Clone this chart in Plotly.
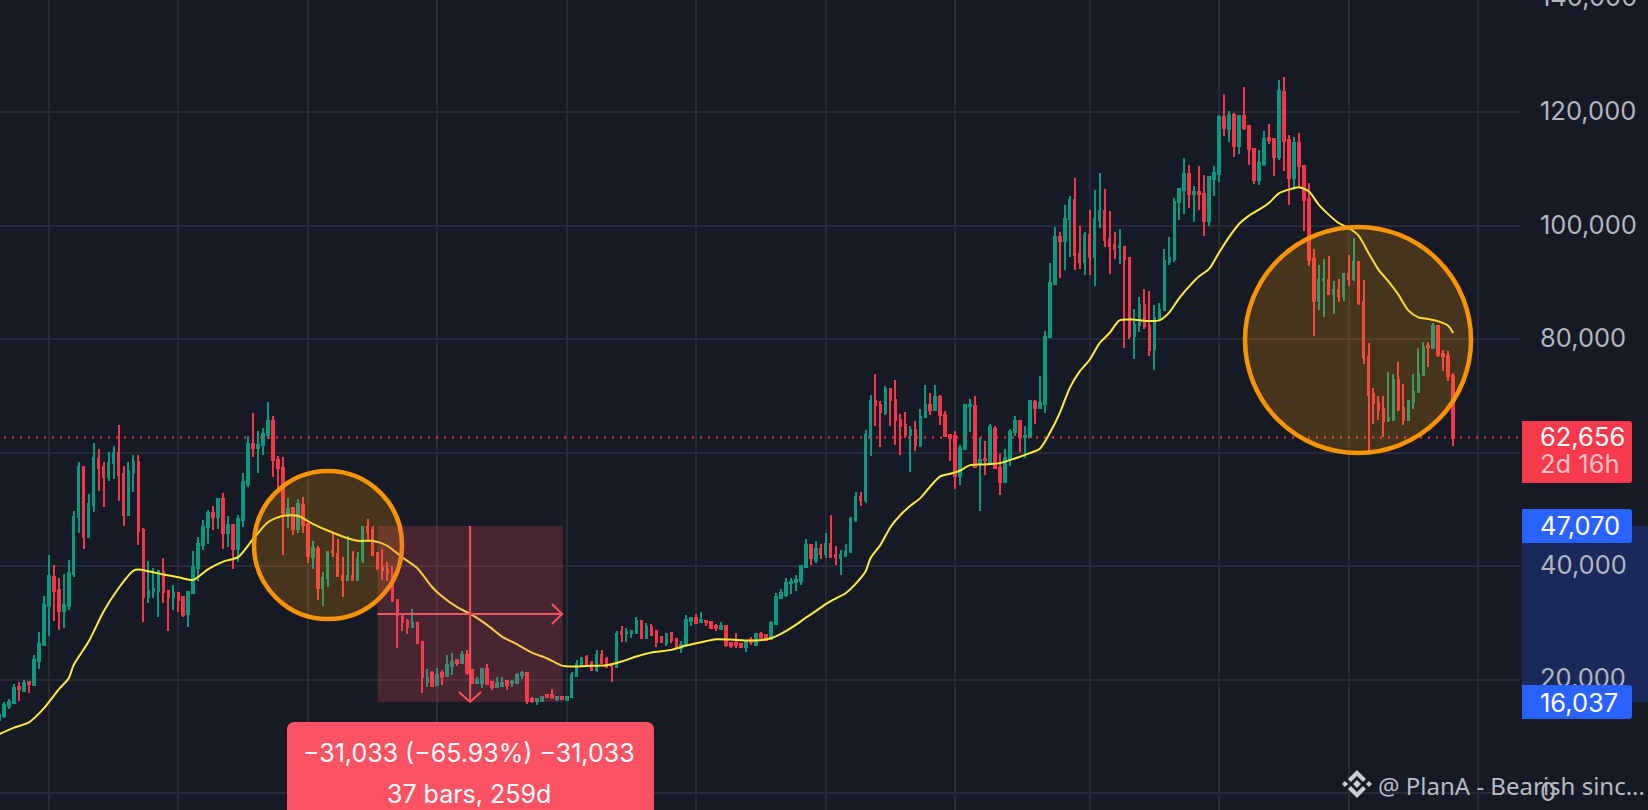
import plotly.graph_objects as go

# weekly candles
open_prices = [
    12880, 13640, 15350, 15940, 18760, 17990, 19520, 19050, 23280, 26100,
    32980, 38160, 35810, 32100, 32980, 38630, 48620, 57440, 45210, 50800,
    58860, 57440, 55620, 58090, 59910, 56270, 49040, 56500, 58390, 46390,
    34630, 35630, 35630, 38920, 35630, 34630, 35220, 34510, 31570, 35340,
    39750, 43740, 46980, 49330, 48740, 51860, 45920, 47270, 43040, 48150,
    54500, 61500, 60740, 61270, 63150, 65620, 58740, 57270, 49330, 50210,
    46570, 50800, 47390, 41690, 43040, 36220, 37860, 42630, 42160, 38330,
    37570, 38330, 37570, 41100, 46860, 46390, 42270, 39800, 39330, 38450,
    34040, 31220, 30400, 29340, 29930, 26700, 19640, 21110, 19050, 21110,
    20640, 22400, 23460, 22870, 24340, 21700, 19460, 19460, 21870, 19640,
    18760, 18930, 19760, 19350, 19350, 20820, 21110, 16520, 16230, 16230,
    17290, 17290, 16580, 16880, 16410, 16990, 20640, 22580, 23930, 22870,
    21700, 24340, 23640, 22580, 22290, 28460, 28170, 28280, 28280, 30400,
    27280, 29340, 28640, 27460, 26520, 28170, 27110, 25520, 26110, 30400,
    30810, 30170, 30400, 30110, 29460, 28930, 29460, 26400, 26520, 26280,
    25810, 26990, 26110, 27990, 27870, 27110, 29810, 34340, 34930, 36990,
    37160, 37400, 39930, 43750, 41100, 43040, 42160, 43920, 41980, 41510,
    41810, 42400, 48160, 52270, 51570, 62980, 69030, 68440, 66970, 71210,
    69330, 65800, 64920, 63030, 64030, 61390, 66210, 68440, 67560, 69740,
    66680, 63150, 62860, 55800, 60680, 68150, 68270, 57980, 58860, 58150,
    64210, 57330, 54740, 58860, 63560, 65620, 62740, 62740, 68910, 67800,
    68620, 80320, 89790, 98020, 97260, 101200, 104610, 95020, 93550, 98430,
    94430, 101080, 102670, 97670, 96670, 96200, 96260, 94320, 80620, 82440,
    85970, 82380, 78320, 83440, 85080, 93610, 94200, 104140, 106370, 109190,
    105660, 105960, 105660, 100900, 108310, 109190, 119190, 117130, 119600, 114130,
    119420, 117540, 113600, 108130, 110900, 115480, 115370, 112070, 123600, 115190,
    108490, 114600, 110600, 104780, 94140, 86670, 90380, 90490, 88020, 88730,
    87670, 91550, 90670, 93670, 86550, 76850, 70330, 68740, 67680, 65680,
    65800, 72850, 67860, 65800, 68860, 70620, 73740, 78850, 78440, 82260,
    77440, 77090, 73560,
]
high_prices = [
    13760, 15990, 16580, 19170, 19580, 19930, 19640, 24340, 28340, 34750,
    41980, 40160, 37860, 38570, 41040, 49740, 58330, 57680, 52680, 61680,
    60620, 58440, 60030, 61210, 64910, 57560, 58330, 59560, 59560, 46680,
    40860, 39630, 39330, 41450, 35810, 36690, 35220, 34630, 35390, 42630,
    45210, 48040, 49920, 50620, 51860, 52860, 48860, 47450, 49040, 56390,
    62850, 66970, 63740, 64320, 68910, 66380, 59440, 59210, 51980, 50330,
    51860, 52150, 47450, 44450, 43570, 38920, 42690, 45920, 44740, 41690,
    45330, 42740, 42450, 46860, 48270, 47150, 42390, 42980, 40800, 40040,
    34040, 31220, 30630, 32400, 29930, 26700, 21820, 21580, 22110, 21700,
    24340, 24760, 23580, 25050, 25230, 21820, 20520, 21820, 22760, 19820,
    20400, 20400, 19930, 19930, 21230, 21520, 21110, 16990, 16700, 17170,
    17460, 18290, 16990, 16990, 16990, 21290, 23460, 24050, 24340, 23340,
    25230, 25230, 24050, 22580, 28580, 29460, 29050, 28750, 30990, 30520,
    29930, 29810, 28750, 27700, 28280, 28460, 27280, 26810, 31400, 31110,
    31580, 31870, 30520, 30220, 29810, 30220, 29640, 26700, 28170, 26400,
    26870, 27580, 27990, 28460, 28050, 30400, 35220, 35990, 37870, 37870,
    38460, 40100, 44750, 43750, 44450, 43920, 45810, 49040, 43570, 42870,
    43920, 48630, 52980, 53100, 64030, 70210, 73850, 69030, 71800, 71270,
    72850, 66860, 67210, 64740, 65620, 67680, 71970, 70500, 71970, 70210,
    67390, 63330, 63860, 61390, 68440, 69500, 70030, 62560, 61980, 65090,
    64620, 59800, 60620, 64210, 66500, 65620, 64620, 69330, 69330, 73560,
    81500, 93430, 99780, 98960, 103720, 105190, 108430, 100020, 98900, 102840,
    106370, 109310, 106490, 102670, 98960, 99430, 96370, 94490, 85380, 87440,
    88910, 88550, 85970, 86380, 95960, 97960, 104900, 106660, 111960, 110780,
    106960, 110600, 109020, 108720, 110600, 119480, 123300, 120310, 119890, 119420,
    124480, 117660, 113720, 113430, 116780, 118010, 115480, 125770, 126240, 116070,
    115600, 116370, 110780, 107550, 95900, 93140, 94140, 94730, 90320, 90670,
    91670, 94900, 97840, 93670, 90490, 79320, 71380, 70030, 70030, 74150,
    73850, 75970, 72090, 69330, 73910, 78440, 79500, 79500, 82850, 82380,
    78150, 77910, 74030,
]
low_prices = [
    12600, 13170, 14760, 15820, 16230, 17880, 17580, 19050, 21870, 25990,
    27690, 30340, 28750, 29100, 32280, 38160, 45920, 43040, 45040, 49450,
    53270, 50450, 54920, 55390, 51510, 47150, 48920, 52980, 43740, 30220,
    33570, 34340, 31100, 33450, 28630, 32280, 31980, 31040, 29340, 35340,
    37390, 42860, 43920, 46390, 46570, 42980, 43450, 39510, 40800, 46980,
    54030, 59150, 56500, 59500, 62380, 55680, 53270, 42040, 46680, 45510,
    45800, 45800, 40630, 39510, 34040, 33040, 36280, 41690, 38160, 34510,
    37570, 37390, 37570, 40630, 44510, 41980, 39330, 37570, 37450, 33750,
    25520, 28630, 28040, 29340, 26520, 17700, 18760, 18760, 18990, 19050,
    20640, 20820, 22460, 22870, 20820, 19350, 19350, 18580, 19230, 18170,
    18640, 18880, 18170, 18640, 19350, 20110, 15700, 15940, 15520, 16110,
    16700, 16520, 16230, 16410, 16410, 16990, 20520, 22460, 22460, 21520,
    21350, 22760, 22110, 19640, 21990, 26700, 26580, 27400, 28170, 27280,
    27110, 27700, 25810, 26400, 25990, 26520, 25520, 24760, 26110, 29460,
    29810, 30050, 29460, 28990, 28640, 28750, 25700, 25520, 25520, 25520,
    24930, 26110, 25990, 27110, 26810, 26990, 29810, 34160, 34630, 35050,
    35630, 36690, 39930, 40220, 40630, 41280, 41510, 41510, 40220, 38460,
    41810, 42400, 47860, 50630, 51100, 59330, 64620, 60920, 66560, 64620,
    61390, 59620, 62560, 56510, 60210, 60980, 66210, 66680, 67560, 64920,
    62980, 58570, 53630, 54330, 60680, 63560, 57270, 49630, 56100, 57860,
    57160, 52570, 54740, 57570, 62860, 60040, 59040, 62740, 65090, 67680,
    66910, 80320, 89490, 90790, 92140, 94490, 92140, 92380, 91380, 91260,
    89320, 99610, 96200, 91550, 94200, 93320, 78380, 80090, 76560, 81200,
    81790, 77090, 74500, 83140, 85080, 93020, 93550, 100960, 102140, 103140,
    100610, 102840, 98260, 99900, 105190, 107660, 115780, 114720, 112070, 112720,
    116950, 110780, 107430, 107250, 110600, 114480, 108720, 111660, 109720, 103610,
    106370, 106660, 99020, 92960, 80620, 85200, 83850, 87730, 84500, 86500,
    86790, 89320, 90200, 86080, 75680, 60040, 65090, 65680, 62680, 65330,
    65800, 67390, 64920, 65800, 67740, 70620, 73740, 75030, 78320, 76790,
    74320, 72560, 61090,
]
close_prices = [
    13700, 15520, 16110, 18580, 18290, 19460, 19170, 23460, 26220, 33160,
    38280, 35690, 32100, 33160, 38750, 48620, 57440, 45210, 50920, 59030,
    57210, 55620, 58150, 59910, 56090, 49040, 56680, 58330, 46270, 34630,
    35630, 35920, 39160, 35510, 34630, 35220, 34040, 31460, 35390, 39860,
    43920, 46980, 49330, 48620, 51860, 45920, 47270, 43040, 48270, 54740,
    61560, 60800, 61380, 63270, 65620, 58620, 57270, 49330, 50040, 46570,
    50920, 47270, 41800, 43160, 36220, 37860, 42510, 42450, 38280, 37570,
    38330, 37570, 41220, 46860, 46100, 41980, 39630, 39330, 38750, 33920,
    31400, 30220, 29340, 29930, 26520, 20520, 20230, 18930, 20820, 20520,
    22580, 23170, 22990, 24340, 21400, 19460, 19930, 21820, 19230, 18760,
    19460, 19460, 19050, 19640, 20820, 21110, 16230, 16230, 16580, 16990,
    16880, 16880, 16880, 16580, 16990, 20820, 22700, 23870, 22700, 21700,
    24340, 22870, 22290, 22400, 27990, 27990, 28340, 28640, 30400, 27280,
    29340, 27870, 26700, 26700, 28050, 26990, 25700, 26110, 30520, 30810,
    30050, 30520, 30110, 29050, 29050, 29520, 26110, 25990, 26110, 25810,
    26700, 26640, 27990, 27230, 26990, 30050, 34520, 35220, 36990, 37160,
    37570, 40100, 43750, 41400, 42980, 42160, 43920, 41690, 41690, 41980,
    42510, 48280, 52270, 51570, 63150, 69150, 68330, 67090, 71270, 69210,
    65680, 64740, 63030, 64030, 61390, 66270, 68440, 67560, 69740, 66560,
    62980, 62560, 55800, 60800, 68330, 68440, 57450, 58740, 58620, 64450,
    57210, 54740, 59040, 63620, 65620, 62680, 62980, 69030, 67800, 68740,
    80380, 89910, 98020, 97310, 101250, 104490, 94900, 93550, 98430, 94430,
    101250, 102670, 97550, 96370, 95960, 96430, 94200, 80500, 82560, 85970,
    82260, 78150, 83730, 85140, 93850, 94320, 104190, 106490, 109190, 105660,
    105960, 105660, 100900, 108550, 109310, 119130, 117250, 119600, 114130, 119420,
    117250, 113480, 108130, 111130, 115370, 115190, 112070, 123720, 115010, 108490,
    114600, 110490, 104610, 94020, 86670, 90490, 90670, 88020, 88730, 87670,
    91550, 90670, 93670, 86380, 76790, 70210, 68740, 67560, 65620, 66090,
    72850, 67740, 65800, 69030, 70680, 73850, 78620, 78560, 82260, 77260,
    76970, 73440, 62656,
]
bars = list(range(len(close_prices)))

# moving average, read at these bars
ma_bars = [
    0, 3, 6, 9, 12, 14, 15, 18, 21, 24, 27, 28, 30, 33, 36, 39, 42, 45, 48, 51,
    54, 57, 60, 63, 66, 69, 72, 75, 78, 81, 84, 87, 89, 92, 95, 98, 101, 104, 107, 110,
    113, 115, 118, 122, 125, 128, 131, 135, 138, 141, 144, 148, 152, 155, 157, 160, 162, 164, 166, 168,
    170, 172, 174, 175, 177, 179, 181, 183, 185, 187, 189, 191, 193, 195, 198, 201, 204, 207, 209, 211,
    213, 215, 217, 219, 221, 223, 225, 228, 231, 233, 235, 237, 239, 241, 243, 245, 247, 249, 251, 253,
    255, 256, 257, 259, 261, 263, 265, 267, 269, 271, 273, 275, 277, 279, 281, 283, 285, 287, 289, 291, 292,
]
ma_values = [
    10345, 11520, 12460, 14930, 18280, 20220, 22580, 26690, 31980, 36100, 39220, 39390, 39100, 38510, 38040, 37570, 39450, 40800, 41570, 44740,
    47740, 48860, 48860, 47450, 46270, 45210, 44450, 44450, 43570, 41510, 39630, 36280, 34630, 32750, 31400, 29640, 27580, 26230, 24760, 23760,
    22460, 22290, 22400, 22520, 23170, 24050, 24760, 25230, 25990, 26580, 27110, 26990, 26870, 27280, 28050, 29640, 30900, 32050, 33280, 34280,
    35220, 36870, 39040, 41400, 43750, 46860, 49000, 50630, 51980, 54040, 55800, 56270, 56860, 57800, 57920, 58150, 58980, 59920, 60680, 63450,
    66970, 71380, 74320, 76380, 79320, 81090, 83320, 83440, 83200, 83320, 84730, 87260, 89320, 91080, 92400, 95300, 98000, 100310, 101780, 102840,
    104020, 104900, 105720, 106370, 106780, 106080, 103720, 101960, 100490, 99610, 98260, 95200, 92260, 90200, 87850, 85080, 83850, 83560, 83140, 82380, 81090,
]

y_ticks = [0, 20000, 40000, 60000, 80000, 100000, 120000]
grid_bars = [10, 36, 62, 88, 114, 140, 166, 192, 219, 245, 271, 297]

last_price = 62656
range_top = 47070
range_bottom = 16037
range_start = 76
range_end = 113

Y_MIN = -2997
Y_MAX = 139797

BG = "#161A25"
GRID = "#282B37"
UP = "#089981"
DOWN = "#F5364A"
PINK = "#F9525F"
BLUE = "#2962FF"
AXIS_TEXT = "#B2B5BE"
FONT = "Inter"


# page pixels to paper / data coordinates for the drawing tools
def px(x):
    return x / 1520


def py(y):
    return 1 - y / 810


def bar_at(x):
    return (x + 1) / 4.98


def price_at(y):
    return Y_MAX - y * (Y_MAX - Y_MIN) / 810


def poly(points, close=True):
    d = "M" + " L".join(f"{px(a):.5f},{py(b):.5f}" for a, b in points)
    return d + (" Z" if close else "")


def right_round(x0, y0, x1, y1, r):
    return (f"M{px(x0):.5f},{py(y0):.5f} L{px(x1 - r):.5f},{py(y0):.5f} "
            f"Q{px(x1):.5f},{py(y0):.5f} {px(x1):.5f},{py(y0 + r):.5f} "
            f"L{px(x1):.5f},{py(y1 - r):.5f} Q{px(x1):.5f},{py(y1):.5f} {px(x1 - r):.5f},{py(y1):.5f} "
            f"L{px(x0):.5f},{py(y1):.5f} Z")


def label(x, y, text, color="white", size=25.5, anchor="left", family=FONT):
    return dict(xref="paper", yref="paper", x=px(x), y=py(y), text=text, showarrow=False,
                xanchor=anchor, yanchor="middle", borderpad=0,
                font=dict(family=family, size=size, color=color))


def circle(cx, cy, r):
    return dict(type="circle", xref="x", yref="y", layer="above",
                x0=bar_at(cx - r), x1=bar_at(cx + r), y0=price_at(cy + r), y1=price_at(cy - r),
                line=dict(color="rgba(255,152,0,0.97)", width=4.5), fillcolor="rgba(255,152,0,0.21)")


fig = go.Figure()

fig.add_trace(go.Candlestick(
    x=bars, open=open_prices, high=high_prices, low=low_prices, close=close_prices,
    increasing=dict(line=dict(color=UP, width=2), fillcolor=UP),
    decreasing=dict(line=dict(color=DOWN, width=2), fillcolor=DOWN),
    hoverinfo="skip", showlegend=False,
))
fig.add_trace(go.Scatter(
    x=ma_bars, y=ma_values, mode="lines", line=dict(color="#FFEB3B", width=2, shape="spline", smoothing=0.7),
    hoverinfo="skip", showlegend=False,
))

shapes = [
    # measured range on the price scale
    dict(type="rect", xref="paper", yref="y", layer="below", x0=px(1522), x1=px(1650),
         y0=range_bottom, y1=range_top, fillcolor="#1A295A", line_width=0),
    # last price line
    dict(type="line", xref="paper", yref="y", layer="above", x0=px(4), x1=px(1518),
         y0=last_price, y1=last_price, line=dict(color=DOWN, width=2, dash="2px,6px")),
    circle(328, 545, 74),
    circle(1358, 340, 113),
    # measure tool
    dict(type="rect", xref="x", yref="y", layer="above", x0=range_start, x1=range_end + 0.2,
         y0=range_bottom, y1=range_top, fillcolor="rgba(247,82,95,0.22)", line_width=0),
    dict(type="line", xref="x", yref="y", layer="above", x0=range_start, x1=range_end + 0.2,
         y0=(range_top + range_bottom) / 2, y1=(range_top + range_bottom) / 2,
         line=dict(color=PINK, width=2)),
    dict(type="line", xref="x", yref="y", layer="above", x0=94.6, x1=94.6,
         y0=range_top, y1=range_bottom, line=dict(color=PINK, width=2)),
    dict(type="path", xref="paper", yref="paper", layer="above",
         path=poly([(552, 604), (562, 614), (552, 624)], close=False), line=dict(color=PINK, width=2)),
    dict(type="path", xref="paper", yref="paper", layer="above",
         path=poly([(459, 692), (470, 702), (481, 692)], close=False), line=dict(color=PINK, width=2)),
    # tooltip
    dict(type="path", xref="paper", yref="paper", layer="above", fillcolor="#FB5363", line_width=0,
         path=(f"M{px(287)},{py(815)} L{px(287)},{py(730)} Q{px(287)},{py(722)} {px(295)},{py(722)} "
               f"L{px(646)},{py(722)} Q{px(654)},{py(722)} {px(654)},{py(730)} L{px(654)},{py(815)} Z")),
    # price scale labels
    dict(type="path", xref="paper", yref="paper", layer="above", fillcolor="#F7394C", line_width=0,
         path=right_round(1522, 421, 1632, 483, 3)),
    dict(type="path", xref="paper", yref="paper", layer="above", fillcolor=BLUE, line_width=0,
         path=right_round(1522, 509, 1632, 543, 3)),
    dict(type="path", xref="paper", yref="paper", layer="above", fillcolor=BLUE, line_width=0,
         path=right_round(1522, 685, 1632, 719, 3)),
]

# watermark logo
icon_x, icon_y = 1357, 784
icon_color = "#C9CCD3"
for dx in (-12, 0, 12):
    r = 4 if dx == 0 else 3
    shapes.append(dict(type="path", xref="paper", yref="paper", layer="above", fillcolor=icon_color, line_width=0,
                       path=poly([(icon_x + dx - r, icon_y), (icon_x + dx, icon_y - r),
                                  (icon_x + dx + r, icon_y), (icon_x + dx, icon_y + r)])))
for s in (-1, 1):
    shapes.append(dict(type="path", xref="paper", yref="paper", layer="above", fillcolor=icon_color, line_width=0,
                       path=poly([(icon_x, icon_y + s * 14), (icon_x + 9, icon_y + s * 5), (icon_x + 6, icon_y + s * 2),
                                  (icon_x, icon_y + s * 8), (icon_x - 6, icon_y + s * 2), (icon_x - 9, icon_y + s * 5)])))

annotations = [
    # the 140,000 tick sits just past the top of the page, so only its lower half shows
    label(1539, -4, "140,000", color=AXIS_TEXT),
    label(1539, 436, "62,656"),
    label(1539, 463, "2d 16h", color="rgba(255,255,255,0.7)"),
    label(1539, 525, "47,070"),
    label(1539, 702, "16,037"),
    label(469.5, 753, "\u221231,033 (\u221265.93%) \u221231,033", size=25, anchor="center"),
    label(469.5, 794, "37 bars, 259d", size=25, anchor="center"),
    label(1377, 785, "@ PlanA - Bearish sinc...", color="#B8BBC3", size=24, family="Noto Sans"),
]

fig.update_layout(
    width=1648, height=810,
    margin=dict(l=0, r=128, t=0, b=0, autoexpand=False),
    paper_bgcolor=BG, plot_bgcolor=BG,
    boxgap=0.55,
    showlegend=False,
    shapes=shapes,
    annotations=annotations,
    xaxis=dict(range=[bar_at(0), bar_at(1520)], rangeslider=dict(visible=False),
               tickmode="array", tickvals=grid_bars, showticklabels=False, ticks="",
               showgrid=True, gridcolor=GRID, gridwidth=2, zeroline=False, showline=False),
    yaxis=dict(range=[Y_MIN, Y_MAX], side="right", tickmode="array", tickvals=y_ticks,
               tickformat=",", ticks="", ticklabelstandoff=19, ticklabelshift=-1,
               tickfont=dict(family=FONT, size=25.5, color=AXIS_TEXT),
               showgrid=True, gridcolor=GRID, gridwidth=2, zeroline=False, showline=False),
)

# the page's default body margin would push the whole chart 8px in; candles snap to whole pixels
fig.write_html("out.html", config=dict(displayModeBar=False),
               post_script="document.body.style.margin='0';document.body.style.background='#161A25';"
                           "document.querySelectorAll('.trace.boxes path').forEach(function(p){p.style.shapeRendering='crispEdges';});")
